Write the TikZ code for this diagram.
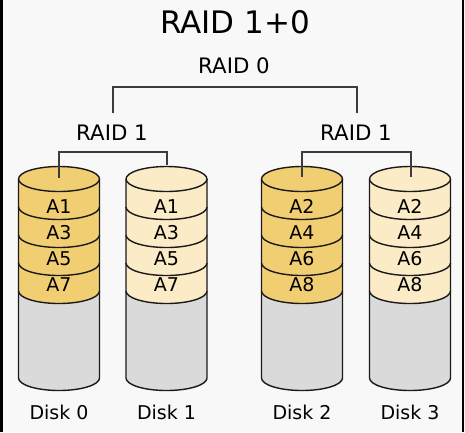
\documentclass[tikz,border=0pt]{standalone}
\usepackage{fontspec}
\setmainfont{DejaVu Sans}
\definecolor{bg}{HTML}{F8F8F8}
\definecolor{golddark}{HTML}{F2CE73}
\definecolor{goldlight}{HTML}{FBEBC6}
\definecolor{diskgray}{HTML}{DADADA}
\definecolor{ink}{HTML}{1A1A1A}
\tikzset{
  outl/.style={draw=ink, line width=1.4pt},
  bracket/.style={draw=ink!85, line width=1.2pt},
  title/.style={anchor=base, inner sep=0pt, font=\fontsize{31}{37}\selectfont},
  raidlbl/.style={anchor=base, inner sep=0pt, font=\fontsize{21.3}{25}\selectfont},
  blocklbl/.style={anchor=base, inner sep=0pt, font=\fontsize{19}{22}\selectfont},
  disklbl/.style={anchor=base, inner sep=0pt, font=\fontsize{19}{22}\selectfont},
}
% #1 centre x, #2 fill colour, #3 name, #4..#7 block labels
\newcommand{\rcylinder}[7]{%
  \fill[diskgray] (#1-40.5,-179) -- (#1-40.5,-378)
     arc[start angle=180,end angle=360,x radius=40.5pt,y radius=12.5pt]
     -- (#1+40.5,-179) -- cycle;
  \fill[#2] (#1-40.5,-179) -- (#1-40.5,-291)
     arc[start angle=180,end angle=360,x radius=40.5pt,y radius=12.5pt]
     -- (#1+40.5,-179) -- cycle;
  \draw[outl, fill=#2] (#1,-179) ellipse[x radius=40.5pt,y radius=12.5pt];
  \foreach \yy in {207,235,263,291}{
    \draw[outl] (#1-40.5,-\yy)
      arc[start angle=180,end angle=360,x radius=40.5pt,y radius=12.5pt];
  }
  \draw[outl] (#1-40.5,-179) -- (#1-40.5,-378)
     arc[start angle=180,end angle=360,x radius=40.5pt,y radius=12.5pt]
     -- (#1+40.5,-179);
  \node[blocklbl] (#3b1) at (#1,-213.6) {#4};
  \node[blocklbl] (#3b2) at (#1,-239.9) {#5};
  \node[blocklbl] (#3b3) at (#1,-265.9) {#6};
  \node[blocklbl] (#3b4) at (#1,-291.9) {#7};
}
\begin{document}
\begin{tikzpicture}[x=1pt,y=1pt]
\useasboundingbox (0,0) rectangle (465,-432);
\fill[bg] (0,0) rectangle (465,-432);
\fill[black] (0,0) rectangle (3,-432);
\fill[black] (461.5,0) rectangle (463.5,-432);

\node[title] (title) at (235,-33.5) {RAID 1+0};
\node[raidlbl] (raid0) at (234,-73) {RAID 0};
\node[raidlbl] (raid1a) at (112,-140) {RAID 1};
\node[raidlbl] (raid1b) at (356,-140) {RAID 1};

\rcylinder{59}{golddark}{d0}{A1}{A3}{A5}{A7}
\rcylinder{166.5}{goldlight}{d1}{A1}{A3}{A5}{A7}
\rcylinder{302}{golddark}{d2}{A2}{A4}{A6}{A8}
\rcylinder{410}{goldlight}{d3}{A2}{A4}{A6}{A8}

\node[disklbl] (disk0) at (59,-419.3) {Disk 0};
\node[disklbl] (disk1) at (166.5,-419.3) {Disk 1};
\node[disklbl] (disk2) at (302,-419.3) {Disk 2};
\node[disklbl] (disk3) at (410,-419.3) {Disk 3};

% connector end points
\coordinate (t1) at (113,-113);
\coordinate (t2) at (357,-113);
\coordinate (top0) at (235,-87);
\coordinate (c0) at (59,-178);
\coordinate (c1) at (167,-165);
\coordinate (c2) at (302,-177);
\coordinate (c3) at (411,-177);
\coordinate (m1) at (113,-152);
\coordinate (m2) at (356,-152);

\draw[bracket] (t1) |- (top0) -| (t2);
\draw[bracket] (c0) |- (m1) -| (c1);
\draw[bracket] (c2) |- (m2) -| (c3);
\end{tikzpicture}
\end{document}
